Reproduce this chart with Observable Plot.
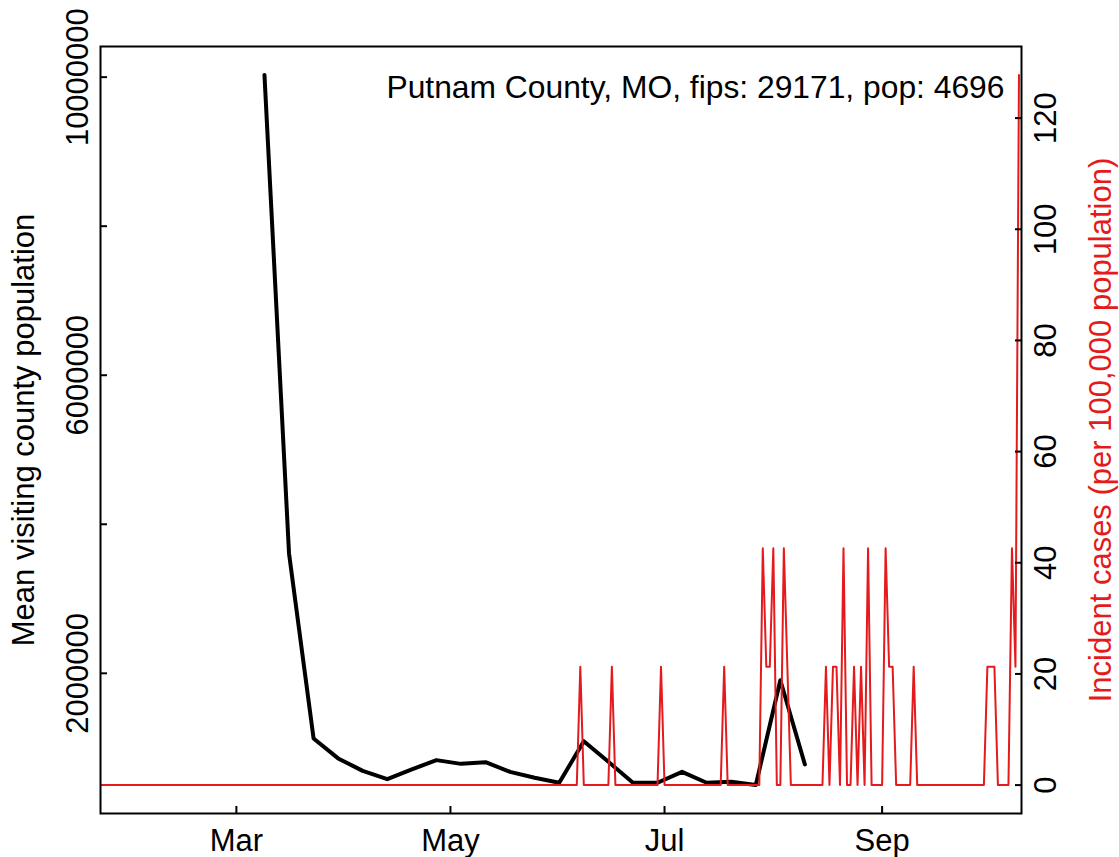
<!DOCTYPE html>
<html>
<head>
<meta charset="utf-8">
<script src="https://cdn.jsdelivr.net/npm/d3@7"></script>
<script src="https://cdn.jsdelivr.net/npm/@observablehq/plot@0.6"></script>
<style>
  html, body { margin: 0; padding: 0; background: #ffffff; }
</style>
</head>
<body>
<div id="chart"></div>
<script>
// ---------- texts ----------
const countyLabel = "Putnam County, MO, fips: 29171, pop: 4696";
const leftTitle = "Mean visiting county population";
const rightTitle = "Incident cases (per 100,000 population)";

// ---------- weekly mobility series (black) ----------
const mobilityDates = [
  "2020-03-09","2020-03-16","2020-03-23","2020-03-30","2020-04-06","2020-04-13",
  "2020-04-20","2020-04-27","2020-05-04","2020-05-11","2020-05-18","2020-05-25",
  "2020-06-01","2020-06-08","2020-06-15","2020-06-22","2020-06-29","2020-07-06",
  "2020-07-13","2020-07-20","2020-07-27","2020-08-03","2020-08-10"
];
const mobilityValues = [
  10030000, 3609000, 1126000, 858000, 691000, 580000,
  711000, 835000, 785000, 808000, 678000, 598000,
  531000, 1089000, 812000, 531000, 531000, 678000,
  531000, 544000, 500000, 1907000, 777000
];

// ---------- daily incident cases per 100,000 (red), starting 2020-01-22 ----------
const casesStart = "2020-01-22";
const casesJan = [0,0,0,0,0,0,0,0,0,0];
const casesFeb = [0,0,0,0,0,0,0,0,0,0, 0,0,0,0,0,0,0,0,0,0, 0,0,0,0,0,0,0,0,0];
const casesMar = [0,0,0,0,0,0,0,0,0,0, 0,0,0,0,0,0,0,0,0,0, 0,0,0,0,0,0,0,0,0,0, 0];
const casesApr = [0,0,0,0,0,0,0,0,0,0, 0,0,0,0,0,0,0,0,0,0, 0,0,0,0,0,0,0,0,0,0];
const casesMay = [0,0,0,0,0,0,0,0,0,0, 0,0,0,0,0,0,0,0,0,0, 0,0,0,0,0,0,0,0,0,0, 0];
const casesJun = [0,0,0,0,0,0,21.29,0,0,0, 0,0,0,0,0,21.29,0,0,0,0, 0,0,0,0,0,0,0,0,0,21.29];
const casesJul = [0,0,0,0,0,0,0,0,0,0, 0,0,0,0,0,0,0,21.29,0,0, 0,0,0,0,0,0,0,0,42.59,21.29, 21.29];
const casesAug = [42.59,0,0,42.59,21.29,0,0,0,0,0, 0,0,0,0,0,21.29,0,21.29,21.29,0, 42.59,0,0,21.29,0,21.29,0,42.59,0,0, 0];
const casesSep = [0,42.59,21.29,21.29,0,0,0,0,0,21.29, 0,0,0,0,0,0,0,0,0,0, 0,0,0,0,0,0,0,0,0,0];
const casesOct = [21.29,21.29,21.29,0,0,0,0,42.59,21.29,127.77];

// ---------- axes ----------
const xLimits = ["2020-02-01", "2020-10-01"];
const monthTicks = ["2020-03-01", "2020-05-01", "2020-07-01", "2020-09-01"];
const monthLabels = ["Mar", "May", "Jul", "Sep"];
const leftTicks = [2000000, 4000000, 6000000, 8000000, 10000000];
const leftLabelTicks = [2000000, 6000000, 10000000];
const rightTicks = [0, 20, 40, 60, 80, 100, 120];

const RED = "#E41A1C";
const FONT = "'Liberation Sans', Arial, Helvetica, sans-serif";

// ---------- build tables ----------
const parse = d3.utcParse("%Y-%m-%d");
const fmtDay = d3.utcFormat("%Y-%m-%d");
const mobility = mobilityDates.map((d, i) => ({date: parse(d), value: mobilityValues[i]}));
const caseRates = [].concat(casesJan, casesFeb, casesMar, casesApr, casesMay,
                            casesJun, casesJul, casesAug, casesSep, casesOct);
const start = parse(casesStart);
const cases = caseRates.map((v, i) => ({date: d3.utcDay.offset(start, i), rate: v}));

// R-style 4% padded ranges
function pad(lo, hi) { const r = hi - lo; return [lo - 0.04 * r, hi + 0.04 * r]; }
const [L0, L1] = pad(d3.min(mobilityValues), d3.max(mobilityValues));
const [R0, R1] = pad(d3.min(caseRates), d3.max(caseRates));
const toLeft = r => L0 + (r - R0) / (R1 - R0) * (L1 - L0);
const fromLeft = v => R0 + (v - L0) / (L1 - L0) * (R1 - R0);
const xl = xLimits.map(parse);
const xr = xl[1] - xl[0];
const xDomain = [new Date(+xl[0] - 0.04 * xr), new Date(+xl[1] + 0.04 * xr)];

const chart = Plot.plot({
  width: 1119,
  height: 857,
  marginLeft: 100,
  marginRight: 98,
  marginTop: 46,
  marginBottom: 44,
  style: {fontFamily: FONT, fontSize: "31px", background: "white", color: "black"},
  x: {type: "utc", domain: xDomain, axis: null},
  y: {domain: [L0, L1], axis: null},
  marks: [
    Plot.line(mobility, {x: "date", y: "value", stroke: "black", strokeWidth: 4,
      strokeLinejoin: "round", strokeLinecap: "round", clip: true}),
    Plot.line(cases, {x: "date", y: d => toLeft(d.rate), stroke: RED, strokeWidth: 2,
      strokeLinejoin: "round", clip: true}),
    Plot.frame({stroke: "black", strokeWidth: 2}),
    // left axis
    Plot.axisY(leftTicks, {anchor: "left", tickSize: 7, dx: 7, fill: "none", label: null, strokeWidth: 2}),
    Plot.axisY(leftLabelTicks, {anchor: "left", tickSize: 0, tickPadding: 13, tickRotate: -90,
      fontSize: 31, label: null, tickFormat: d3.format("d")}),
    // right axis
    Plot.axisY(rightTicks.map(toLeft), {anchor: "right", tickSize: 7, dx: -7, fill: "none", label: null, strokeWidth: 2}),
    Plot.axisY(rightTicks.map(toLeft), {anchor: "right", tickSize: 0, tickPadding: 34, tickRotate: -90,
      fontSize: 31, label: null, tickFormat: v => String(Math.round(fromLeft(v)))}),
    // bottom axis
    Plot.axisX(monthTicks.map(parse), {anchor: "bottom", tickSize: 7, dy: -7, fill: "none", label: null, strokeWidth: 2}),
    Plot.axisX(monthTicks.map(parse), {anchor: "bottom", tickSize: 0, tickPadding: 15, fontSize: 31, label: null,
      tickFormat: d => monthLabels[monthTicks.indexOf(fmtDay(d))]}),
    // titles
    Plot.text([leftTitle], {text: d => d, frameAnchor: "left", dx: -67, rotate: -90,
      textAnchor: "middle", lineAnchor: "bottom", fontSize: 31, fill: "black"}),
    Plot.text([rightTitle], {text: d => d, frameAnchor: "right", dx: 89, rotate: -90,
      textAnchor: "middle", lineAnchor: "bottom", fontSize: 31, fill: RED}),
    Plot.text([countyLabel], {text: d => d, frameAnchor: "top-right", dx: -17, dy: 51,
      textAnchor: "end", lineAnchor: "bottom", fontSize: 31.8, fill: "black"})
  ]
});
document.getElementById("chart").appendChild(chart);
</script>
</body>
</html>
